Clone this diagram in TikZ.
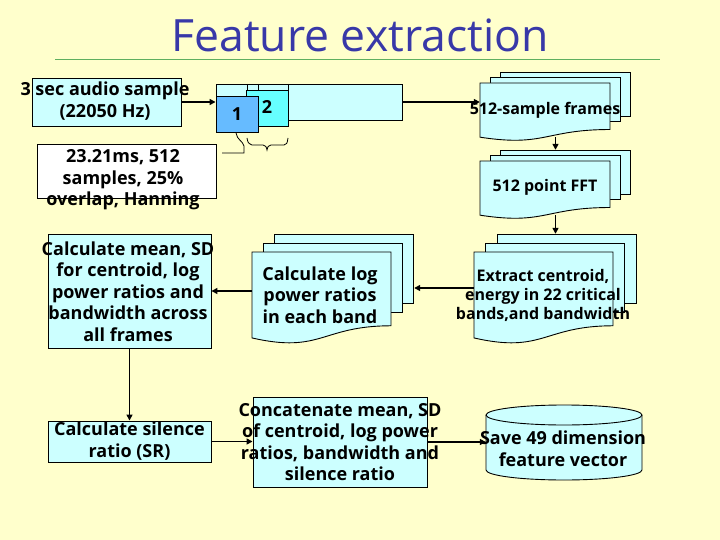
\documentclass[tikz,border=0pt]{standalone}
\usepackage{fontspec}
\setmainfont{Open Sans}
\usetikzlibrary{arrows.meta}
\definecolor{bg}{HTML}{FFFFCC}
\definecolor{cy}{HTML}{CCFFFF}
\definecolor{fra}{HTML}{66BBFF}
\definecolor{frb}{HTML}{66FFFF}
\definecolor{ttl}{HTML}{3838A8}
\definecolor{gl}{HTML}{5FAF5F}
\newcommand\mdoc[6]{%
 \filldraw[docst] ({#1+2*#5},{#2-2*#6}) rectangle ({#1+2*#5+#3},{#2-2*#6+0.76*#4});
 \filldraw[docst] ({#1+#5},{#2-#6}) rectangle ({#1+#5+#3},{#2-#6+0.76*#4});
 \filldraw[docst] (#1,#2) -- ({#1+#3},#2) -- ({#1+#3},{#2+0.802*#4}) .. controls ({#1+0.5*#3},{#2+0.802*#4}) and ({#1+0.5*#3},{#2+1.107*#4}) .. (#1,{#2+0.934*#4}) -- cycle;
}
\begin{document}
\begin{tikzpicture}[x=1pt,y=-1pt,
 bx/.style={draw, fill=cy, line width=0.9pt, inner sep=0pt},
 ghost/.style={inner sep=0pt},
 lbl/.style={align=center, font=\bfseries\fontsize{18}{21.5}\selectfont, inner sep=0pt},
 slbl/.style={align=center, font=\bfseries\fontsize{16}{19}\selectfont, inner sep=0pt},
 arr/.style={-{Triangle[length=6pt,width=6pt]}, line width=1.6pt},
 docst/.style={draw, fill=cy, line width=0.9pt}]
\fill[bg] (0,0) rectangle (720,540);
\useasboundingbox (0,0) rectangle (720,540);
% title
\node[font=\fontsize{44.5}{50}\selectfont, text=ttl, inner sep=0pt] (title) at (360,35) {Feature extraction};
\draw[gl, line width=1pt] (55,60) -- (660,60);
% top-left boxes
\node[bx, minimum width=149pt, minimum height=48pt] (audio) at (106.5,102) {};
\node[bx, minimum width=186pt, minimum height=36pt] (strip) at (309,102) {};
\draw[line width=0.9pt] (247,84) -- (247,90) (258,84) -- (258,90) (288,84) -- (288,90);
\node[bx, fill=frb, minimum width=42pt, minimum height=36pt] (f2) at (267,108) {};
\node[bx, fill=fra, minimum width=42pt, minimum height=36pt] (f1) at (237,114) {};
\node[draw, fill=white, line width=0.9pt, inner sep=0pt, minimum width=179pt, minimum height=54pt] (params) at (126.5,171) {};
\draw[line width=0.8pt] (236,133) .. controls (237,140) and (243,141) .. (244,146) -- (244,153) -- (222,153);
\draw[line width=0.8pt] (247,138) .. controls (248,143) .. (252,145) -- (263,145) .. controls (266,146) .. (267,150) .. controls (268,146) .. (271,145) -- (284,145) .. controls (287,144) .. (288,138);
% stacks
\mdoc{480}{83}{130}{58}{10}{5.5}
\mdoc{480}{161}{130}{58}{10}{5.5}
\mdoc{474}{252}{139}{92}{11.5}{9}
\mdoc{252}{252}{139}{92}{11}{9}
\node[ghost, minimum width=151pt, minimum height=65pt] (frames) at (555.5,104.5) {};
\node[ghost, minimum width=151pt, minimum height=65pt] (fft) at (555.5,182.5) {};
\node[ghost, minimum width=163pt, minimum height=104pt] (extract) at (555.5,286) {};
\node[ghost, minimum width=162pt, minimum height=104pt] (calclog) at (333,286) {};
% left / bottom boxes
\node[bx, minimum width=163pt, minimum height=114pt] (mean) at (129.5,291) {};
\node[bx, minimum width=163pt, minimum height=41pt] (silence) at (129.5,441.5) {};
\node[bx, minimum width=174pt, minimum height=90pt] (concat) at (340,442) {};
% cylinder
\node[ghost, minimum width=156pt, minimum height=75pt] (cyl) at (564,442.5) {};
\fill[cy] (486,415) -- (486,470) arc[start angle=180, end angle=0, x radius=78, y radius=10] -- (642,415) -- cycle;
\draw[line width=0.9pt] (486,415) -- (486,470) arc[start angle=180, end angle=0, x radius=78, y radius=10] -- (642,415);
\filldraw[docst] (564,415) ellipse [x radius=78, y radius=10];
% connectors
\draw[arr] (audio.east) -- (strip.west);
\draw[arr] (strip.east) -- (frames.west |- strip.east);
\draw[arr] (frames.south) -- (fft.north);
\draw[arr] (fft.south) -- (extract.north);
\draw[arr] ([yshift=-2pt]extract.west) -- ([yshift=-2pt]calclog.east);
\draw[arr] (calclog.west |- mean.east) -- (mean.east);
\draw[arr] (mean.south) -- (silence.north);
\draw[arr] (silence.east) -- (concat.west |- silence.east);
\draw[arr] (concat.east) -- (cyl.west |- concat.east);
% labels
\node[lbl] (audioT) at (105,101) {3 sec audio sample\\(22050 Hz)};
\node[lbl] (n1) at (237,114) {1};
\node[lbl] (n2) at (267,107) {2};
\node[lbl] (paramsT) at (123,180) {23.21ms, 512\\samples, 25\%\\overlap, Hanning};
\node[slbl] (framesT) at (545,110) {512-sample frames};
\node[slbl] (fftT) at (545,187) {512 point FFT};
\node[slbl] (extractT) at (543,295.5) {Extract centroid,\\energy in 22 critical\\bands,and bandwidth};
\node[lbl] (calclogT) at (320,295) {Calculate log\\power ratios\\in each band};
\node[lbl] (meanT) at (128,291.5) {Calculate mean, SD\\for centroid, log\\power ratios and\\bandwidth across\\all frames};
\node[lbl] (silenceT) at (129.5,441) {Calculate silence\\ratio (SR)};
\node[lbl] (concatT) at (340,442) {Concatenate mean, SD\\of centroid, log power\\ratios, bandwidth and\\silence ratio};
\node[lbl] (cylT) at (563,448.5) {Save 49 dimension\\feature vector};
\end{tikzpicture}
\end{document}
